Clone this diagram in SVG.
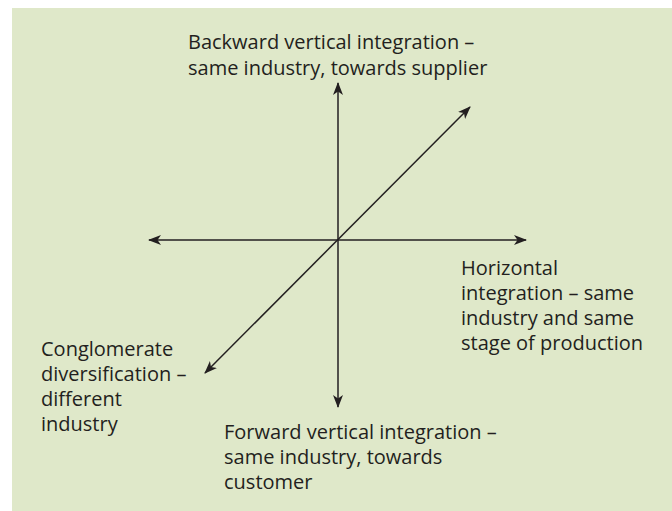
<svg xmlns="http://www.w3.org/2000/svg" width="672" height="511" viewBox="0 0 672 511">
<defs>
<style>
.t{font-family:"Open Sans","DejaVu Sans",sans-serif;font-size:20px;fill:#231f20}
.ax{stroke:#231f20;stroke-width:1.5;fill:none}
</style>
<marker id="ah" viewBox="0 0 13 10" refX="12" refY="5" markerWidth="13" markerHeight="10" markerUnits="userSpaceOnUse" orient="auto-start-reverse">
<path d="M0,0 L13,5 L0,10 L3.5,5 Z" fill="#231f20"/>
</marker>
</defs>
<rect x="12" y="8" width="660" height="503" fill="#dfe8c9"/>
<g id="connectors">
<line class="ax" x1="338" y1="83" x2="338" y2="407" marker-start="url(#ah)" marker-end="url(#ah)"/>
<line class="ax" x1="149" y1="240" x2="526" y2="240" marker-start="url(#ah)" marker-end="url(#ah)"/>
<line class="ax" x1="205" y1="373" x2="470" y2="107" marker-start="url(#ah)" marker-end="url(#ah)"/>
</g>
<g id="backward">
<text class="t" x="188" y="49">Backward vertical integration –</text>
<text class="t" x="188" y="75">same industry, towards supplier</text>
</g>
<g id="horizontal">
<text class="t" x="461" y="275">Horizontal</text>
<text class="t" x="461" y="300">integration – same</text>
<text class="t" x="461" y="325">industry and same</text>
<text class="t" x="461" y="350">stage of production</text>
</g>
<g id="conglomerate">
<text class="t" x="41" y="356">Conglomerate</text>
<text class="t" x="41" y="381">diversification –</text>
<text class="t" x="41" y="406">different</text>
<text class="t" x="41" y="431">industry</text>
</g>
<g id="forward">
<text class="t" x="224" y="439">Forward vertical integration –</text>
<text class="t" x="224" y="464">same industry, towards</text>
<text class="t" x="224" y="489">customer</text>
</g>
</svg>
